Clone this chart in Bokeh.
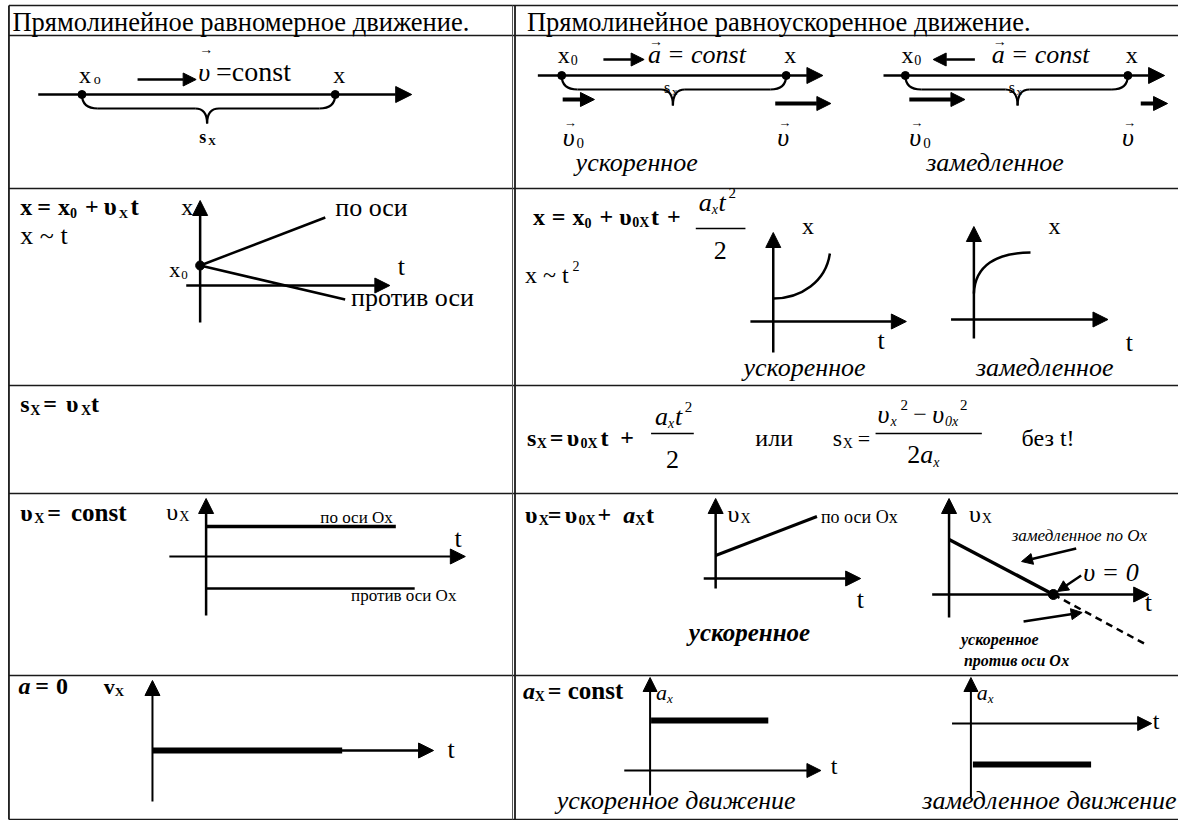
from bokeh.plotting import figure
from bokeh.models import Range1d, Arrow, NormalHead
from bokeh.core.properties import value
from bokeh.embed import file_html
from bokeh.resources import INLINE

FONT = "Liberation Serif, Times New Roman, serif"
W, H = 1178, 820
PAGE_W, PAGE_H = 1186, 828
BASE_FIX = 0.32  # bokeh svg places the alphabetic baseline this many em too low

# ---------------- content (texts) ----------------
header_titles = ["Прямолинейное равномерное движение.",
                 "Прямолинейное равноускоренное движение."]
kind_labels = ["ускоренное", "замедленное"]
kind_motion = ["ускоренное движение", "замедленное движение"]
dir_labels = ["по оси", "против оси"]
dir_ox = ["по оси Ох", "против оси Ох"]
extra_labels = ["замедленное по Ох", "или", "без  t!", "=const", "= const"]

# ---------------- table grid ----------------
row_y = [5, 35, 188, 385, 493, 675, 819]
col_x = [8.5, 518]
x_right = 1186

p = figure(width=W, height=H, x_range=Range1d(0, PAGE_W), y_range=Range1d(PAGE_H, 0),
           output_backend="svg", toolbar_location=None, min_border=0,
           x_axis_location=None, y_axis_location=None)
p.grid.visible = False
p.outline_line_color = None
p.background_fill_color = "white"
p.border_fill_color = "white"


def Y(y):
    """page pixel -> data y (the data range is a little taller than the frame)"""
    return y * PAGE_H / H


ry = [Y(v) for v in row_y]
p.segment(x0=[col_x[0]] * len(ry), y0=ry, x1=[x_right] * len(ry), y1=ry,
          line_color="#1a1a1a", line_width=1.6)
p.segment(x0=col_x, y0=[ry[0]] * 2, x1=col_x, y1=[ry[-1]] * 2,
          line_color="#1a1a1a", line_width=1.8)
p.segment(x0=[515.5], y0=[ry[0]], x1=[515.5], y1=[ry[-1]], line_color="#555", line_width=1)


def T(x, y, s, size, style="normal"):
    p.text(x=[x], y=[y - BASE_FIX * size], text=[s], text_font=value(FONT),
           text_font_size=f"{size}px", text_font_style=style, text_baseline="alphabetic",
           text_align="left", text_color="black")


def AR(x0, y0, x1, y1, lw=2.5, hs=14):
    p.add_layout(Arrow(end=NormalHead(size=hs, fill_color="black", line_color="black", line_width=1),
                       x_start=x0, y_start=Y(y0), x_end=x1, y_end=Y(y1),
                       line_width=lw, line_color="black"))


def LN(x0, y0, x1, y1, lw=2.5, dash="solid"):
    p.line(x=[x0, x1], y=[Y(y0), Y(y1)], line_width=lw, line_color="black", line_dash=dash)


def DOT(x, y, s=8):
    p.scatter(x=[x], y=[Y(y)], size=s, color="black")


def CURVE(x0, y0, x1, y1, cx0, cy0, cx1, cy1):
    p.bezier(x0=[x0], y0=[Y(y0)], x1=[x1], y1=[Y(y1)], cx0=[cx0], cy0=[Y(cy0)],
             cx1=[cx1], cy1=[Y(cy1)], line_color="black", line_width=2.5)


def BRACE(x1, x2, y, flat, cusp, xm):
    r, c = 16, 12
    y, flat, cusp = Y(y), Y(flat), Y(cusp)
    p.quadratic(x0=[x1, x2, xm - c, xm + c], y0=[y, y, flat, flat],
                x1=[x1 + r, x2 - r, xm, xm], y1=[flat, flat, cusp, cusp],
                cx=[x1, x2, xm, xm], cy=[flat, flat, flat, flat],
                line_color="black", line_width=2.2)
    p.segment(x0=[x1 + r, xm + c], y0=[flat, flat], x1=[xm - c, x2 - r], y1=[flat, flat],
              line_color="black", line_width=2.2)


# ---------------- header ----------------
T(12, 30, header_titles[0], 26.5)
T(530, 30, header_titles[1], 26.5)

# ---------------- row 1 left ----------------
T(79, 83, "x", 24); T(94, 84, "o", 14)
AR(138, 79, 197, 79, lw=2.5, hs=13)
T(200, 54, "→", 14); T(199, 81, "υ", 26, "italic"); T(217, 81, extra_labels[3], 28)
T(335, 83, "x", 24)
AR(38, 94, 414, 94, lw=2.5, hs=16)
DOT(82, 94); DOT(337, 94)
BRACE(82, 337, 94, 108, 123, 208)
T(200, 144, "s", 18, "bold"); T(209, 145, "X", 11, "bold")

# ---------------- row 1 right ----------------
for (xa, xb, x_ax0, x_ax1, xm, a_arrow, x_a, v0a, va, label, lx) in [
        (565, 791, 541, 828, 677, (607, 648), 652, (566, 598), (780, 836), kind_labels[0], 579),
        (911, 1135, 889, 1172, 1024, (981, 939), 998, (915, 971), (1148, 1175), kind_labels[1], 932)]:
    T(xa - 4, 63, "x", 24); T(xa + 9, 65, "0", 14)
    AR(a_arrow[0], 59, a_arrow[1], 59, lw=2.5, hs=13)
    T(x_a + 1, 46, "→", 14); T(x_a, 63, "a", 26, "italic"); T(x_a + 19, 63, extra_labels[4], 26, "italic")
    T(xb - 2, 63, "x", 24)
    AR(x_ax0, 75, x_ax1, 75, lw=2.5, hs=16)
    DOT(xa, 75); DOT(xb, 75)
    BRACE(xa, xb, 75, 89, 105, xm)
    T(xm - 9, 93, "s", 16); T(xm - 1, 95, "x", 11)
    AR(v0a[0], 99, v0a[1], 99, lw=4, hs=14)
    AR(va[0], 103, va[1], 103, lw=4, hs=14)
    T(v0a[0] + 1, 127, "→", 13); T(v0a[0], 147, "υ", 26, "italic"); T(v0a[0] + 14, 149, "0", 15)
    vx = va[0] + 2 if a_arrow[1] > a_arrow[0] else xb - 6
    T(vx + 1, 127, "→", 13); T(vx, 147, "υ", 26, "italic")
    T(lx, 172, label, 26, "italic")

# ---------------- row 2 left ----------------
for (x, s, sz, dy) in [(20, "x", 24, 0), (37, "=", 24, 0), (58, "x", 24, 0), (70, "0", 14, 3),
                       (85, "+", 24, 0), (104, "υ", 25, 0), (119, "X", 13, 3), (131, "t", 25, 0)]:
    T(x, 216 + dy, s, sz, "bold")
T(20, 246, "x ~ t", 26)
AR(201, 322, 201, 200, lw=2.5, hs=15)
T(182, 216, "x", 24)
AR(187, 285, 392, 285, lw=2.5, hs=15)
T(400, 277, "t", 26)
DOT(201, 265, 9)
T(170, 279, "x", 22); T(182, 281, "0", 13)
LN(201, 265, 327, 217)
T(337, 217, dir_labels[0], 26)
LN(201, 265, 347, 299)
T(353, 308, dir_labels[1], 26)

# ---------------- row 2 right ----------------
for (x, s, sz, dy) in [(536, "x", 24, 0), (555, "=", 24, 0), (576, "x", 24, 0), (588, "0", 14, 3),
                       (603, "+", 24, 0), (623, "υ", 24, 0), (636, "0X", 14, 3), (655, "t", 24, 0),
                       (671, "+", 24, 0)]:
    T(x, 226 + dy, s, sz, "bold")
T(703, 212, "a", 26, "italic"); T(716, 216, "x", 14, "italic"); T(723, 212, "t", 26, "italic"); T(733, 199, "2", 15)
LN(700, 228, 750, 228, lw=1.3)
T(718, 261, "2", 26)
T(528, 285, "x ~ t", 24); T(576, 273, "2", 14)
# graph: accelerating x(t)
AR(778, 352, 778, 232, lw=2.5, hs=15)
AR(755, 321, 912, 321, lw=2.5, hs=15)
T(883, 352, "t", 26); T(807, 235, "x", 24)
CURVE(778, 298, 835, 253, 806, 298, 831, 281)
T(748, 379, kind_labels[0], 26, "italic")
# graph: decelerating x(t)
AR(980, 338, 980, 226, lw=2.5, hs=15)
AR(957, 319, 1115, 319, lw=2.5, hs=15)
T(1133, 354, "t", 26); T(1055, 235, "x", 24)
CURVE(980, 293, 1037, 252, 981, 265, 1003, 252)
T(982, 379, kind_labels[1], 26, "italic")

# ---------------- row 3 ----------------
for (x, s, sz, dy) in [(20, "s", 24, 0), (30, "X", 14, 3), (43, "=", 24, 0), (66, "υ", 24, 0),
                       (81, "X", 14, 3), (91, "t", 24, 0)]:
    T(x, 415 + dy, s, sz, "bold")
for (x, s, sz, dy) in [(530, "s", 24, 0), (540, "X", 14, 3), (553, "=", 24, 0), (570, "υ", 24, 0),
                       (584, "0X", 14, 3), (604, "t", 24, 0), (624, "+", 24, 0)]:
    T(x, 449 + dy, s, sz, "bold")
T(659, 428, "a", 26, "italic"); T(672, 432, "x", 14, "italic"); T(679, 428, "t", 26, "italic"); T(689, 415, "2", 15)
LN(655, 433, 698, 433, lw=1.3)
T(670, 472, "2", 26)
T(760, 449, extra_labels[1], 24)
T(838, 449, "s", 24); T(848, 452, "X", 14); T(863, 449, "=", 22)
T(883, 426, "υ", 26, "italic"); T(896, 430, "x", 14, "italic"); T(906, 413, "2", 15)
T(919, 426, "−", 24)
T(938, 426, "υ", 26, "italic"); T(951, 430, "0x", 14, "italic"); T(966, 413, "2", 15)
LN(881, 433, 988, 433, lw=1.3)
T(913, 467, "2", 26); T(926, 467, "a", 26, "italic"); T(939, 471, "x", 14, "italic")
T(1028, 449, extra_labels[2], 24)

# ---------------- row 4 left ----------------
for (x, s, sz, dy) in [(20, "υ", 24, 0), (34, "X", 14, 3), (47, "=", 24, 0), (71, "const", 25, 0)]:
    T(x, 525 + dy, s, sz, "bold")
T(167, 524, "υ", 24); T(180, 526, "X", 14)
AR(207, 615, 207, 498, lw=2.5, hs=15)
AR(170, 556, 468, 556, lw=2, hs=15)
T(457, 552, "t", 26)
LN(207, 526, 398, 526, lw=3.5)
T(322, 527, dir_ox[0], 17)
LN(207, 588, 417, 588, lw=2.5)
T(353, 606, dir_ox[1], 17)

# ---------------- row 4 right ----------------
for (x, s, sz, dy, st) in [(528, "υ", 24, 0, "bold"), (542, "X", 14, 3, "bold"), (551, "=", 24, 0, "bold"),
                           (568, "υ", 24, 0, "bold"), (582, "0X", 14, 3, "bold"), (601, "+", 24, 0, "bold"),
                           (627, "a", 24, 0, "bold italic"), (639, "X", 14, 3, "bold"), (650, "t", 24, 0, "bold")]:
    T(x, 527 + dy, s, sz, st)
AR(720, 588, 720, 498, lw=2.5, hs=15)
AR(708, 578, 866, 578, lw=2.5, hs=15)
T(862, 613, "t", 26); T(732, 526, "υ", 24); T(745, 528, "X", 14)
LN(720, 555, 822, 516, lw=3)
T(826, 527, dir_ox[0], 18)
T(693, 646, kind_labels[0], 25, "bold italic")
AR(955, 617, 955, 498, lw=2.5, hs=15)
AR(938, 594, 1156, 594, lw=2.5, hs=15)
T(1152, 616, "t", 26); T(975, 526, "υ", 24); T(988, 528, "X", 14)
LN(955, 539, 1060, 594, lw=3.5)
DOT(1060, 594, 10)
LN(1060, 594, 1155, 645, lw=2.5, dash="7 5")
T(1018, 546, extra_labels[0], 17, "italic")
AR(1083, 548, 1028, 561, lw=2.5, hs=11)
T(1090, 586, "υ = 0", 26, "italic")
AR(1088, 575, 1064, 591, lw=2.5, hs=11)
AR(1030, 621, 1089, 612, lw=2.5, hs=11)
T(967, 650, kind_labels[0], 16, "bold italic")
T(970, 672, dir_ox[1], 16, "bold italic")

# ---------------- row 5 left ----------------
T(18, 700, "a", 24, "bold italic"); T(35, 700, "=", 24, "bold"); T(56, 700, "0", 24, "bold")
T(104, 700, "v", 22, "bold"); T(115, 702, "X", 13, "bold")
AR(153, 801, 153, 680, lw=2, hs=15)
AR(153, 750, 436, 750, lw=2.5, hs=15)
LN(153, 750, 344, 750, lw=6)
T(450, 765, "t", 26)

# ---------------- row 5 right ----------------
T(526, 705, "a", 24, "bold italic"); T(538, 707, "X", 14, "bold")
T(551, 705, "=", 24, "bold"); T(571, 705, "const", 25, "bold")
AR(654, 795, 654, 677, lw=2, hs=14)
T(660, 706, "a", 22, "italic"); T(671, 709, "x", 13, "italic")
LN(655, 720, 773, 720, lw=6)
AR(628, 770, 826, 770, lw=2, hs=14)
T(836, 781, "t", 24)
T(560, 816, kind_motion[0], 26, "italic")
AR(977, 797, 977, 677, lw=2, hs=14)
T(983, 706, "a", 22, "italic"); T(994, 709, "x", 13, "italic")
AR(958, 723, 1159, 723, lw=2, hs=14)
T(1160, 735, "t", 24)
LN(979, 764, 1098, 764, lw=6)
T(928, 816, kind_motion[1], 26, "italic")

open("out.html", "w").write(file_html(p, INLINE))
